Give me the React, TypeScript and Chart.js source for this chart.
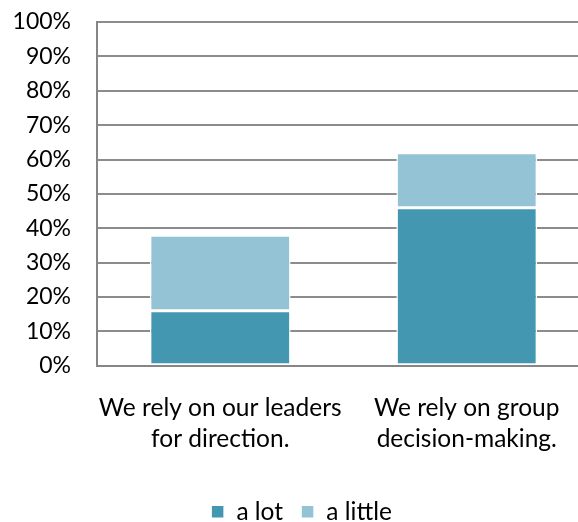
import React, { useEffect, useRef } from "react";
import { Chart, registerables } from "chart.js";

Chart.register(...registerables);

const categories: string[][] = [
  ["We rely on our leaders", "for direction."],
  ["We rely on group", "decision-making."],
];
const aLot: number[] = [16, 46];
const aLittle: number[] = [22, 16];
const yTicks: number[] = [0, 10, 20, 30, 40, 50, 60, 70, 80, 90, 100];

const FONT = "Lato, 'Open Sans', sans-serif";

export default function App() {
  const ref = useRef<HTMLCanvasElement | null>(null);
  useEffect(() => {
    if (!ref.current) return;
    const chart = new Chart(ref.current, {
      type: "bar",
      data: {
        labels: categories,
        datasets: [
          {
            label: "a lot",
            data: aLot,
            backgroundColor: "#4397B0",
            borderColor: "#ffffff",
            borderWidth: 1.5,
            borderSkipped: false,
          },
          {
            label: "a little",
            data: aLittle,
            backgroundColor: "#93C3D4",
            borderColor: "#ffffff",
            borderWidth: 1.5,
            borderSkipped: false,
          },
        ],
      },
      options: {
        responsive: false,
        animation: false,
        devicePixelRatio: 1,
        layout: { padding: { top: 22, left: 13, right: 20, bottom: 0 } },
        datasets: { bar: { categoryPercentage: 1, barPercentage: 0.571 } },
        plugins: {
          tooltip: { enabled: false },
          legend: {
            position: "bottom",
            labels: {
              boxWidth: 13,
              boxHeight: 13,
              padding: 18,
              color: "#000",
              font: { family: FONT, size: 24.5 },
            },
          },
        },
        scales: {
          x: {
            stacked: true,
            grid: { display: false, drawTicks: false },
            border: { display: true, color: "#868686", width: 2 },
            afterFit: (axis: any) => {
              axis.paddingLeft = 0;
              axis.paddingRight = 0;
            },
            ticks: {
              color: "#000",
              padding: 26,
              autoSkip: false,
              font: { family: FONT, size: 24.5, lineHeight: 1.3 },
              maxRotation: 0,
            },
          },
          y: {
            stacked: true,
            min: 0,
            max: 100,
            afterBuildTicks: (axis: any) => {
              axis.ticks = yTicks.map((v) => ({ value: v }));
            },
            afterFit: (axis: any) => {
              axis.paddingTop = 0;
              axis.paddingBottom = 0;
              axis.width = 84;
            },
            grid: { color: "#8C8C8C", lineWidth: 2, drawTicks: false },
            border: { display: true, color: "#868686", width: 2 },
            ticks: {
              color: "#000",
              padding: 26,
              autoSkip: false,
              font: { family: FONT, size: 23 },
              callback: (v: any) => v + "%",
            },
          },
        },
      },
    });
    return () => chart.destroy();
  }, []);
  return (
    <div
      style={{
        position: "fixed",
        left: 0,
        top: 0,
        width: 578,
        height: 522,
        overflow: "hidden",
        background: "#fff",
      }}
    >
      <canvas ref={ref} width={610} height={534} style={{ display: "block" }} />
    </div>
  );
}
